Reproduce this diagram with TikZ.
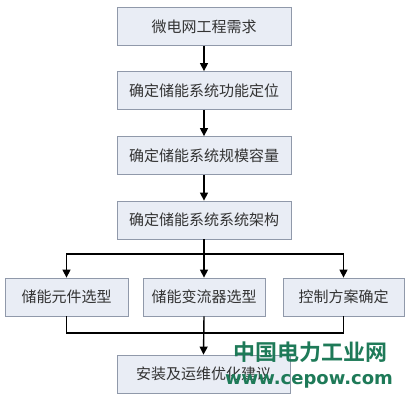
\documentclass[tikz,border=0pt]{standalone}
\usepackage{fontspec}
\newfontfamily\cjk{Noto Sans CJK SC}
\newfontfamily\cjkb{Noto Sans CJK SC Bold}
\newfontfamily\wmlat{DejaVu Sans Bold}
\usetikzlibrary{arrows.meta}
\definecolor{boxfill}{HTML}{E9EDF5}
\definecolor{boxline}{HTML}{9099AA}
\definecolor{wmgreen}{HTML}{1E7A58}
\begin{document}
\begin{tikzpicture}[x=1pt,y=-1pt,
  flowbox/.style={draw=boxline,fill=boxfill,line width=0.8pt,minimum height=38pt,inner sep=0pt,
    font=\cjk\fontsize{15pt}{18pt}\selectfont,text=black!80},
  conn/.style={line width=1.4pt,black},
  arr/.style={conn,-{Triangle[length=8pt,width=8pt]}}]
\useasboundingbox[fill=white] (0,0) rectangle (410,407);
\node[flowbox,minimum width=174pt] (b1) at (204,26.5) {微电网工程需求};
\node[flowbox,minimum width=174pt] (b2) at (204,90.5) {确定储能系统功能定位};
\node[flowbox,minimum width=174pt] (b3) at (204,155.5) {确定储能系统规模容量};
\node[flowbox,minimum width=174pt] (b4) at (204,220) {确定储能系统系统架构};
\node[flowbox,minimum width=123pt] (ra) at (66.5,297) {储能元件选型};
\node[flowbox,minimum width=122pt] (rb) at (204,297) {储能变流器选型};
\node[flowbox,minimum width=121pt] (rc) at (343.5,297) {控制方案确定};
\node[flowbox,minimum width=173pt] (fin) at (203.5,374) {安装及运维优化建议};
\coordinate (split) at (204,254);
\coordinate (merge) at (204,333);
\draw[arr] (b1) -- (b2);
\draw[arr] (b2) -- (b3);
\draw[arr] (b3) -- (b4);
\draw[conn] (b4) -- (split);
\draw[arr] (split) -| (ra.north);
\draw[arr] (split) -- (rb.north);
\draw[arr] (split) -| (rc.north);
\draw[conn] (ra.south) |- (merge);
\draw[conn] (rc.south) |- (merge);
\draw[arr] (rb.south) -- (fin.north);
\node[font=\cjkb\fontsize{22pt}{24pt}\selectfont,text=wmgreen,inner sep=0pt] (wm1) at (310,352) {中国电力工业网};
\node[font=\wmlat\fontsize{18pt}{20pt}\selectfont,text=wmgreen,inner sep=0pt,anchor=base] (wm2) at (309,384) {www.cepow.com};
\end{tikzpicture}
\end{document}
